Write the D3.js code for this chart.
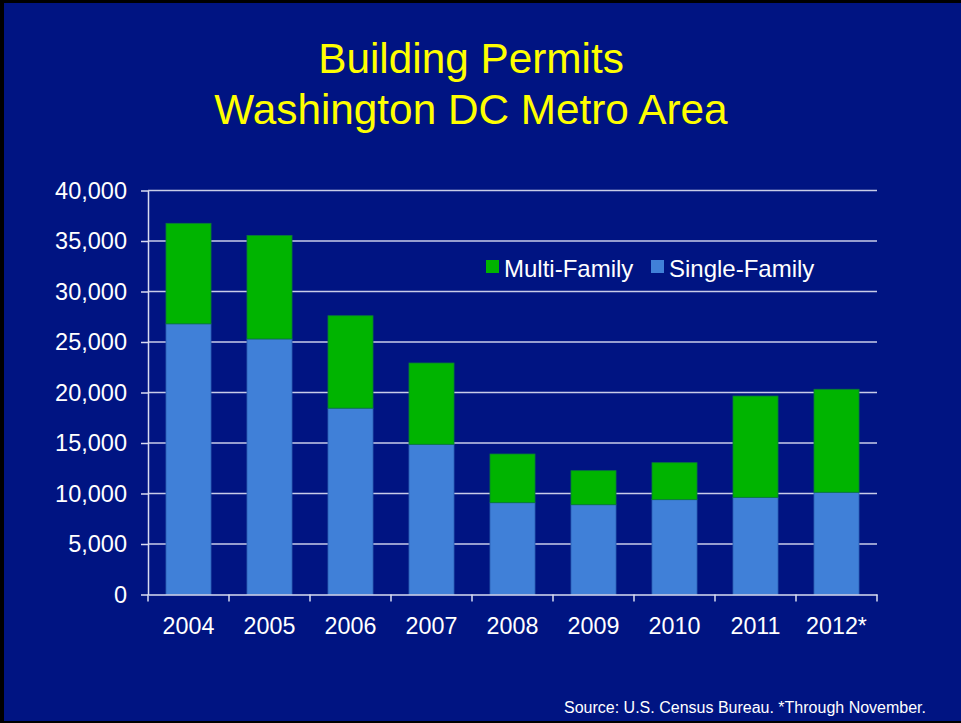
<!DOCTYPE html>
<html>
<head>
<meta charset="utf-8">
<script src="https://cdn.jsdelivr.net/npm/d3@7"></script>
<style>
  html, body { margin: 0; padding: 0; background: #000; }
  svg { display: block; }
</style>
</head>
<body>
<svg id="chart" width="961" height="723"></svg>
<script>
const years = ["2004", "2005", "2006", "2007", "2008", "2009", "2010", "2011", "2012*"];
const singleFamily = [26800, 25300, 18450, 14870, 9090, 8890, 9390, 9620, 10120];
const multiFamily = [9950, 10250, 9150, 8050, 4820, 3370, 3660, 10030, 10200];
const yTicks = [0, 5000, 10000, 15000, 20000, 25000, 30000, 35000, 40000];
const seriesNames = ["Multi-Family", "Single-Family"];
const titleLines = ["Building Permits", "Washington DC Metro Area"];
const sourceText = "Source: U.S. Census Bureau. *Through November.";

const W = 961, H = 723;
const bg = "#001482";
const colSingle = "#4080d8";
const colMulti = "#00b400";
const font = "'Liberation Sans', Arial, Helvetica, sans-serif";

const svg = d3.select("#chart");
// frame
svg.append("rect").attr("x", 0).attr("y", 0).attr("width", W).attr("height", H).attr("fill", "#000");
svg.append("rect").attr("x", 4).attr("y", 3).attr("width", W - 4).attr("height", H - 5).attr("fill", bg);

// title
svg.append("g").selectAll("text").data(titleLines).join("text")
  .attr("x", 471).attr("y", (d, i) => 73 + i * 51)
  .attr("text-anchor", "middle")
  .attr("font-family", font).attr("font-size", 42.3)
  .attr("fill", "#ffff00")
  .text(d => d);

const margin = { left: 148, right: 877, top: 190.5, bottom: 594.5 };
const x = d3.scaleBand().domain(years).range([margin.left, margin.right]).paddingInner(0.444).paddingOuter(0.222);
const y = d3.scaleLinear().domain([0, 40000]).range([margin.bottom, margin.top]);

// gridlines
svg.append("g").selectAll("line").data(yTicks.filter(d => d > 0)).join("line")
  .attr("x1", margin.left).attr("x2", margin.right)
  .attr("y1", d => y(d)).attr("y2", d => y(d))
  .attr("stroke", "#c8cce8").attr("stroke-width", 1.5);

// stacked data
const rows = years.map((yr, i) => ({ year: yr, single: singleFamily[i], multi: multiFamily[i] }));
const stack = d3.stack().keys(["single", "multi"])(rows);
const colors = { single: colSingle, multi: colMulti };
const strokes = { single: "#2a5cb0", multi: "#0a7a3a" };

svg.append("g").selectAll("g").data(stack).join("g")
  .attr("fill", d => colors[d.key])
  .attr("stroke", d => strokes[d.key])
  .attr("stroke-width", 0.8)
  .selectAll("rect").data(d => d).join("rect")
  .attr("x", d => x(d.data.year))
  .attr("width", x.bandwidth())
  .attr("y", d => y(d[1]))
  .attr("height", d => y(d[0]) - y(d[1]));

// y axis
const yAxis = d3.axisLeft(y).tickValues(yTicks).tickSize(7).tickSizeOuter(0)
  .tickFormat(d3.format(",")).tickPadding(14);
const gy = svg.append("g").attr("transform", `translate(${margin.left},0)`).call(yAxis);
gy.select(".domain").attr("stroke", "#d8dcf0").attr("stroke-width", 1.5);
gy.selectAll(".tick line").attr("stroke", "#d8dcf0").attr("stroke-width", 1.5);
gy.selectAll("text").attr("fill", "#ffffff").attr("font-family", font).attr("font-size", 23.5);

// x axis
const xAxis = d3.axisBottom(x).tickSize(0).tickSizeOuter(0).tickPadding(30);
const gx = svg.append("g").attr("transform", `translate(0,${margin.bottom})`).call(xAxis);
gx.select(".domain").attr("stroke", "#d8dcf0").attr("stroke-width", 1.5);
gx.selectAll("text").attr("fill", "#ffffff").attr("font-family", font).attr("font-size", 23.3).attr("dy", "0");
// category boundary ticks
const bounds = d3.range(years.length + 1).map(i => margin.left + i * (margin.right - margin.left) / years.length);
gx.append("g").selectAll("line").data(bounds).join("line")
  .attr("x1", d => d).attr("x2", d => d).attr("y1", 0).attr("y2", 7)
  .attr("stroke", "#d8dcf0").attr("stroke-width", 1.5);
gx.selectAll(".tick text").attr("y", 39);

// legend
const legendItems = [
  { name: seriesNames[0], color: colMulti, x: 486, tx: 504 },
  { name: seriesNames[1], color: colSingle, x: 651, tx: 669 }
];
const lg = svg.append("g");
lg.selectAll("rect").data(legendItems).join("rect")
  .attr("x", d => d.x).attr("y", 260).attr("width", 13).attr("height", 13).attr("fill", d => d.color);
lg.selectAll("text").data(legendItems).join("text")
  .attr("x", d => d.tx).attr("y", 277)
  .attr("font-family", font).attr("font-size", 24).attr("fill", "#ffffff")
  .text(d => d.name);

// source
svg.append("text").attr("x", 926).attr("y", 713).attr("text-anchor", "end")
  .attr("font-family", font).attr("font-size", 16).attr("fill", "#ffffff")
  .text(sourceText);
</script>
</body>
</html>
